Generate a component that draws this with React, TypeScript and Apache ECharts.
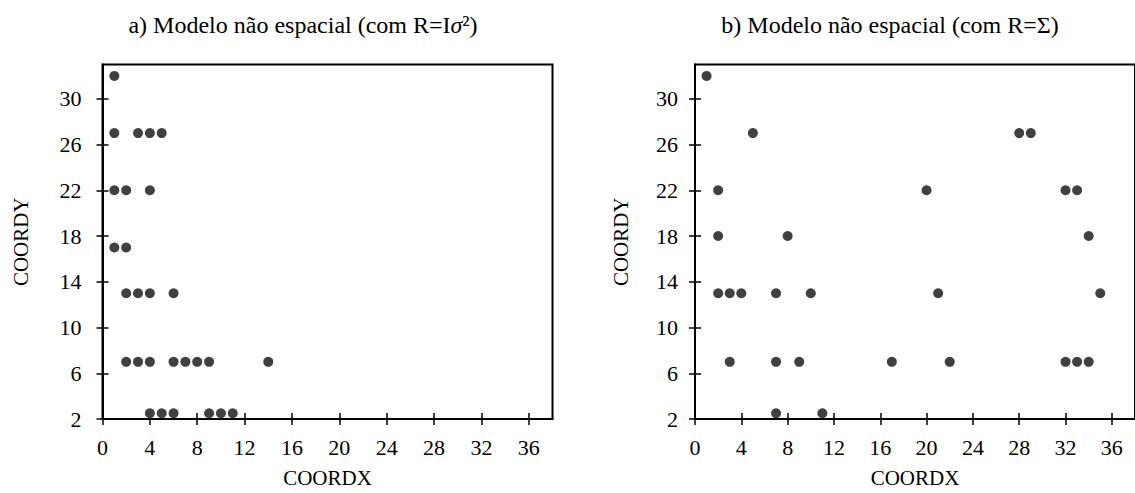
import React, { useEffect, useRef } from "react";
import * as echarts from "echarts";

const xTicks = [0, 4, 8, 12, 16, 20, 24, 28, 32, 36];
const yTicks = [2, 6, 10, 14, 18, 22, 26, 30];
const xRange = [0, 38];
const yRange = [2, 33];

const titleA = "a) Modelo não espacial (com R=I{i|σ}²)";
const titleB = "b) Modelo não espacial (com R=Σ)";
const xName = "COORDX";
const yName = "COORDY";

const modelAX = [1, 1, 3, 4, 5, 1, 2, 4, 1, 2, 2, 3, 4, 6, 2, 3, 4, 6, 7, 8, 9, 14, 4, 5, 6, 9, 10, 11];
const modelAY = [32, 27, 27, 27, 27, 22, 22, 22, 17, 17, 13, 13, 13, 13, 7, 7, 7, 7, 7, 7, 7, 7, 2.5, 2.5, 2.5, 2.5, 2.5, 2.5];

const modelBX = [1, 5, 28, 29, 2, 20, 32, 33, 2, 8, 34, 2, 3, 4, 7, 10, 21, 35, 3, 7, 9, 17, 22, 32, 33, 34, 7, 11];
const modelBY = [32, 27, 27, 27, 22, 22, 22, 22, 18, 18, 18, 13, 13, 13, 13, 13, 13, 13, 7, 7, 7, 7, 7, 7, 7, 7, 2.5, 2.5];

const FONT = "'Liberation Serif', 'Times New Roman', serif";

export default function App() {
  const ref = useRef<HTMLDivElement>(null);

  useEffect(() => {
    if (!ref.current) return;
    const chart = echarts.init(ref.current, undefined, { renderer: "svg" });

    const grids = [
      { left: 102.5, top: 64.5, width: 450, height: 356.5 },
      { left: 695, top: 64.5, width: 450, height: 356.5 },
    ];

    const xAxes: any[] = [];
    const yAxes: any[] = [];
    const yNameGaps = [71, 64];
    const yLabelMargins = [21, 17];
    grids.forEach((_, i) => {
      xAxes.push({
        type: "value",
        gridIndex: i,
        min: xRange[0],
        max: xRange[1],
        name: xName,
        nameLocation: "middle",
        nameGap: 48,
        nameTextStyle: { fontFamily: FONT, fontSize: 21, color: "#000" },
        axisLine: { show: true, lineStyle: { color: "#000", width: 2 } },
        axisTick: { show: true, length: 6, customValues: xTicks, lineStyle: { color: "#000", width: 1.5 } },
        axisLabel: { customValues: xTicks, margin: 17, fontFamily: FONT, fontSize: 22, color: "#000" },
        splitLine: { show: false },
      });
      xAxes.push({
        type: "value",
        gridIndex: i,
        position: "bottom",
        min: xRange[0],
        max: xRange[1],
        axisLine: { show: false },
        axisTick: { show: true, inside: true, length: 6, customValues: xTicks, lineStyle: { color: "#000", width: 1.5 } },
        axisLabel: { show: false },
        splitLine: { show: false },
      });
      yAxes.push({
        type: "value",
        gridIndex: i,
        min: yRange[0],
        max: yRange[1],
        name: yName,
        nameLocation: "middle",
        nameGap: yNameGaps[i],
        nameTextStyle: { fontFamily: FONT, fontSize: 21, color: "#000" },
        axisLine: { show: true, lineStyle: { color: "#000", width: 2 } },
        axisTick: { show: true, length: 6, customValues: yTicks, lineStyle: { color: "#000", width: 1.5 } },
        axisLabel: { customValues: yTicks, margin: yLabelMargins[i], fontFamily: FONT, fontSize: 22, color: "#000" },
        splitLine: { show: false },
      });
      yAxes.push({
        type: "value",
        gridIndex: i,
        position: "left",
        min: yRange[0],
        max: yRange[1],
        axisLine: { show: false },
        axisTick: { show: true, inside: true, length: 6, customValues: yTicks, lineStyle: { color: "#000", width: 1.5 } },
        axisLabel: { show: false },
        splitLine: { show: false },
      });
    });

    const toPairs = (xs: number[], ys: number[]) => xs.map((x, k) => [x, ys[k]]);

    chart.setOption({
      animation: false,
      backgroundColor: "#fff",
      title: [
        {
          text: titleA,
          left: 303,
          top: 13,
          padding: 0,
          textAlign: "center",
          textStyle: {
            fontFamily: FONT,
            fontSize: 24,
            fontWeight: "normal",
            color: "#000",
            rich: { i: { fontFamily: FONT, fontSize: 24, fontStyle: "italic", color: "#000" } },
          },
        },
        {
          text: titleB,
          left: 890,
          top: 13,
          padding: 0,
          textAlign: "center",
          textStyle: { fontFamily: FONT, fontSize: 24, fontWeight: "normal", color: "#000" },
        },
      ],
      grid: grids.map((g) => ({ ...g, show: true, borderColor: "#000", borderWidth: 2, backgroundColor: "transparent" })),
      xAxis: xAxes,
      yAxis: yAxes,
      series: [
        {
          type: "scatter",
          xAxisIndex: 0,
          yAxisIndex: 0,
          symbol: "circle",
          symbolSize: 10,
          itemStyle: { color: "#404040", opacity: 1 },
          data: toPairs(modelAX, modelAY),
        },
        {
          type: "scatter",
          xAxisIndex: 2,
          yAxisIndex: 2,
          symbol: "circle",
          symbolSize: 10,
          itemStyle: { color: "#404040", opacity: 1 },
          data: toPairs(modelBX, modelBY),
        },
      ],
    });

    return () => chart.dispose();
  }, []);

  return (
    <div
      ref={ref}
      style={{ position: "absolute", left: 0, top: 0, width: 1135, height: 493, background: "#fff" }}
    />
  );
}
